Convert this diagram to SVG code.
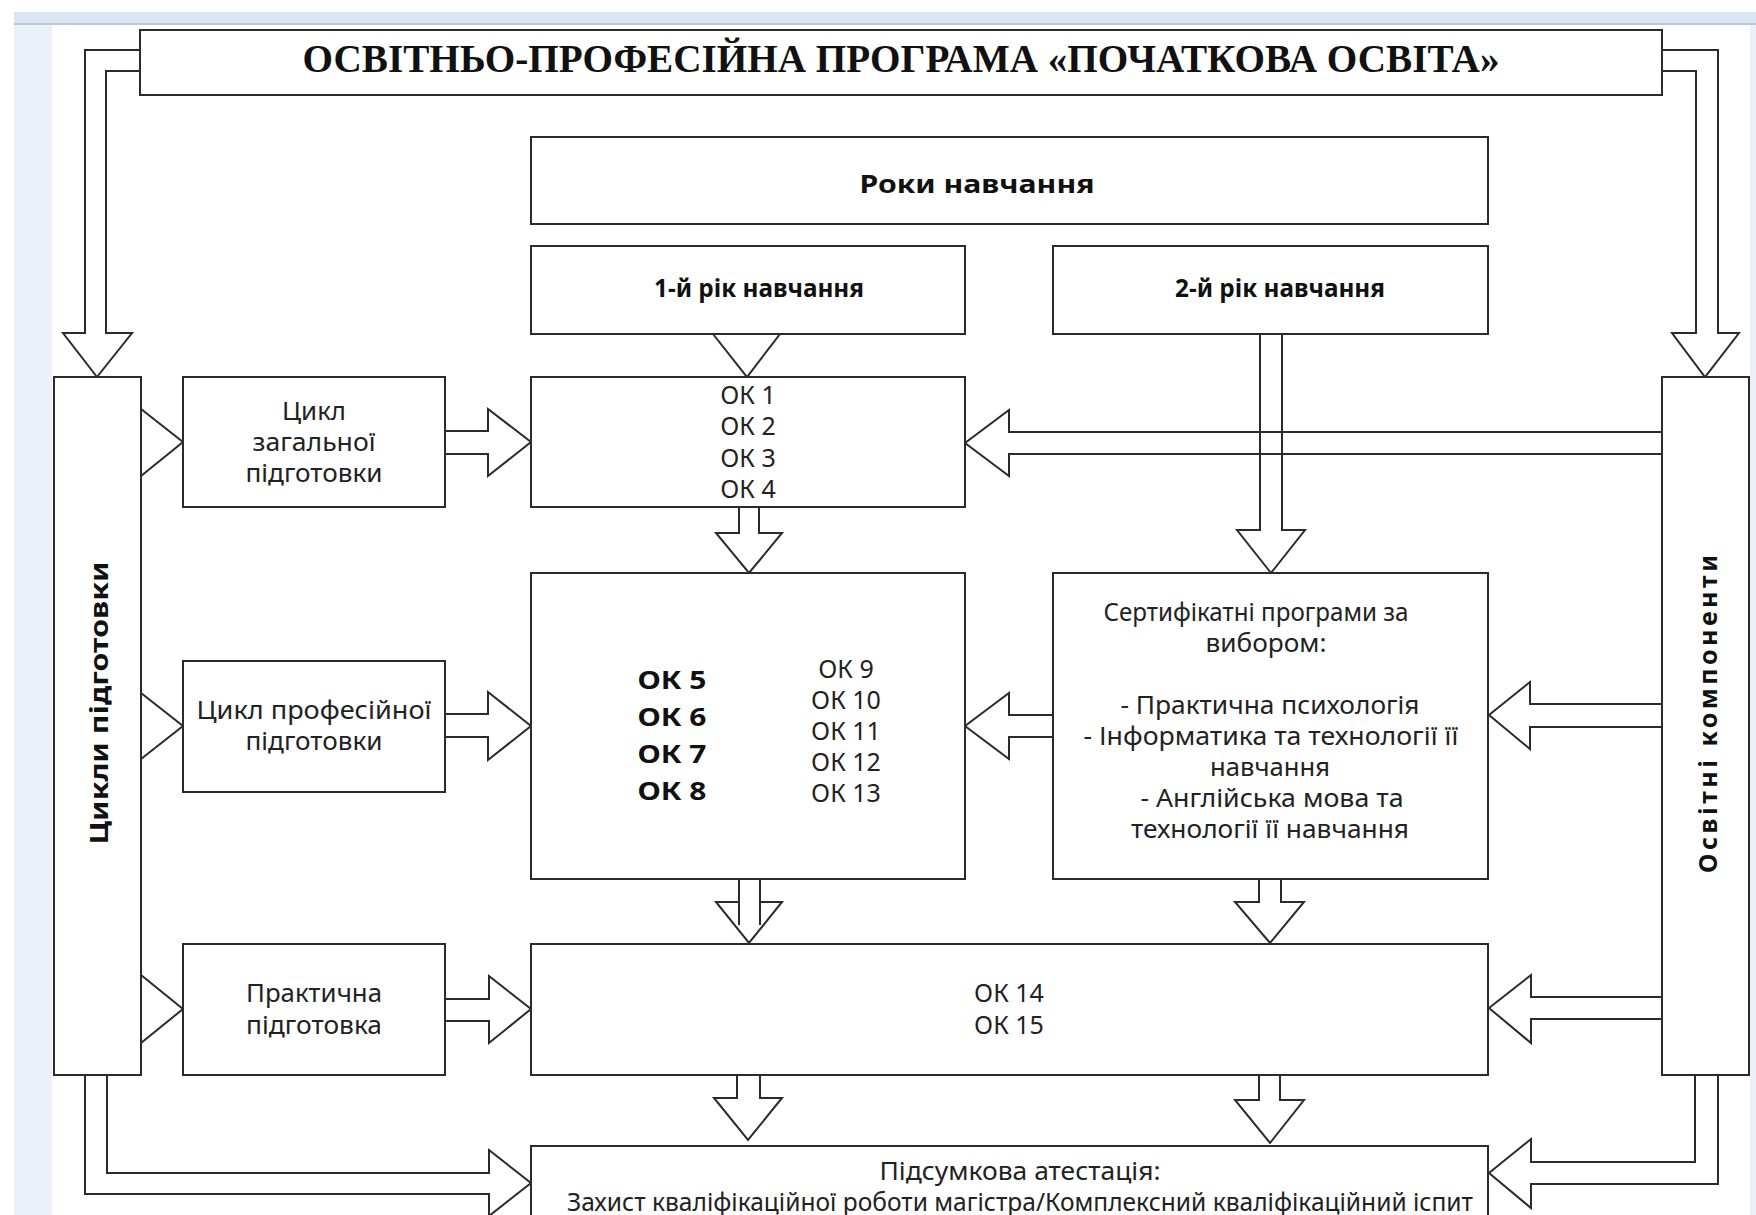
<svg xmlns="http://www.w3.org/2000/svg" width="1756" height="1215" viewBox="0 0 1756 1215">
<style>
.box{fill:#fff;stroke:#2b2b2b;stroke-width:2}
.con{fill:none;stroke:#2b2b2b;stroke-width:2;stroke-linejoin:miter}
.t{font-family:"Noto Sans","Liberation Sans",Arial,sans-serif;font-size:25px;fill:#222;text-anchor:middle}
.b{font-weight:bold;fill:#111}
.title{font-family:"Liberation Serif","Times New Roman",serif;font-size:39px;font-weight:bold;fill:#111;text-anchor:middle}
</style>
<rect x="0" y="0" width="1756" height="1215" fill="#fff"/>
<rect x="14" y="12" width="1742" height="12" fill="#dbe5f1"/>
<rect x="14" y="23" width="1742" height="2" fill="#b8c8dc"/>
<rect x="14" y="25" width="38" height="1190" fill="#ebf1f9"/>
<rect x="1750" y="25" width="6" height="1190" fill="#ebf1f9"/>

<g id="connectors">
<path class="con" d="M140,50 H85 V333 H63 L97,377 L132,333 H106 V71 H140"/>
<path class="con" d="M1662,50 H1718 V333 H1739 L1705,377 L1672,333 H1696 V71 H1662"/>
<path class="con" d="M713,334 L747,377 L780,334 Z"/>
<path class="con" d="M1260,334 V530 H1237 L1271,573 L1305,530 H1282 V334"/>
<path class="con" d="M1662,432 H1009 V410 L965,443 L1009,476 V454 H1662"/>
<path class="con" d="M445,431 H488 V409 L531,442 L488,476 V454 H445"/>
<path class="con" d="M141,409 L183,442 L141,476"/>
<path class="con" d="M739,507 V533 H716 L749,573 L782,533 H759 V507"/>
<path class="con" d="M141,693 L183,726 L141,759"/>
<path class="con" d="M445,714 H488 V692 L531,726 L488,760 V737 H445"/>
<path class="con" d="M1053,715 H1009 V693 L965,726 L1009,759 V737 H1053"/>
<path class="con" d="M1662,704 H1530 V682 L1489,715 L1530,749 V727 H1662"/>
<path class="con" d="M739,879 V902 H716 L749,943 L782,902 H760 V879 M739,902 V925 M760,902 V925"/>
<path class="con" d="M1259,879 V902 H1235 L1270,943 L1304,902 H1281 V879"/>
<path class="con" d="M141,975 L183,1009 L141,1043"/>
<path class="con" d="M445,999 H489 V976 L531,1009 L489,1043 V1021 H445"/>
<path class="con" d="M1662,997 H1531 V975 L1489,1008 L1531,1043 V1019 H1662"/>
<path class="con" d="M737,1075 V1098 H714 L748,1140 L782,1098 H760 V1075"/>
<path class="con" d="M1259,1075 V1100 H1235 L1270,1143 L1304,1100 H1280 V1075"/>
<path class="con" d="M85,1075 V1194 H489 V1216 L531,1183 L489,1150 V1173 H107 V1075"/>
<path class="con" d="M1718,1075 V1184 H1531 V1208 L1489,1173 L1531,1139 V1162 H1695 V1075"/>
</g>

<g id="title">
<rect class="box" x="140" y="30" width="1522" height="65"/>
<text class="title" x="901" y="72" textLength="1197" lengthAdjust="spacingAndGlyphs">ОСВІТНЬО-ПРОФЕСІЙНА ПРОГРАМА «ПОЧАТКОВА ОСВІТА»</text>
</g>
<g id="roky">
<rect class="box" x="531" y="137" width="957" height="87"/>
<text class="t b" x="977" y="193" font-size="31" textLength="235" lengthAdjust="spacingAndGlyphs">Роки навчання</text>
</g>
<g id="rik1">
<rect class="box" x="531" y="246" width="434" height="88"/>
<text class="t b" x="759" y="297" textLength="210" lengthAdjust="spacingAndGlyphs">1-й рік навчання</text>
</g>
<g id="rik2">
<rect class="box" x="1053" y="246" width="435" height="88"/>
<text class="t b" x="1280" y="297" textLength="210" lengthAdjust="spacingAndGlyphs">2-й рік навчання</text>
</g>
<g id="tsykly">
<rect class="box" x="54" y="377" width="87" height="698"/>
<text class="t b" font-size="31" transform="translate(108,703) rotate(-90)" x="0" y="0" textLength="283" lengthAdjust="spacingAndGlyphs">Цикли підготовки</text>
</g>
<g id="osvitni">
<rect class="box" x="1662" y="377" width="87" height="698"/>
<text class="t b" font-size="31" transform="translate(1717,714) rotate(-90)" x="0" y="0" textLength="318" lengthAdjust="spacing">Освітні компоненти</text>
</g>
<g id="zahalna">
<rect class="box" x="183" y="377" width="262" height="130"/>
<text class="t" x="314" y="420" textLength="64" lengthAdjust="spacingAndGlyphs">Цикл</text>
<text class="t" x="314" y="451" textLength="123" lengthAdjust="spacingAndGlyphs">загальної</text>
<text class="t" x="314" y="482" textLength="137" lengthAdjust="spacingAndGlyphs">підготовки</text>
</g>
<g id="ok1-4">
<rect class="box" x="531" y="377" width="434" height="130"/>
<text class="t" x="748" y="404">ОК 1</text>
<text class="t" x="748" y="435">ОК 2</text>
<text class="t" x="748" y="467">ОК 3</text>
<text class="t" x="748" y="498">ОК 4</text>
</g>
<g id="profesiina">
<rect class="box" x="183" y="661" width="262" height="131"/>
<text class="t" x="314" y="719" textLength="235" lengthAdjust="spacingAndGlyphs">Цикл професійної</text>
<text class="t" x="314" y="750" textLength="137" lengthAdjust="spacingAndGlyphs">підготовки</text>
</g>
<g id="ok5-13">
<rect class="box" x="531" y="573" width="434" height="306"/>
<text class="t b" font-size="28" x="672" y="689" textLength="69" lengthAdjust="spacingAndGlyphs">ОК 5</text>
<text class="t b" font-size="28" x="672" y="726" textLength="69" lengthAdjust="spacingAndGlyphs">ОК 6</text>
<text class="t b" font-size="28" x="672" y="763" textLength="69" lengthAdjust="spacingAndGlyphs">ОК 7</text>
<text class="t b" font-size="28" x="672" y="800" textLength="69" lengthAdjust="spacingAndGlyphs">ОК 8</text>
<text class="t" x="846" y="678">ОК 9</text>
<text class="t" x="846" y="709">ОК 10</text>
<text class="t" x="846" y="740">ОК 11</text>
<text class="t" x="846" y="771">ОК 12</text>
<text class="t" x="846" y="802">ОК 13</text>
</g>
<g id="sertyfikatni">
<rect class="box" x="1053" y="573" width="435" height="306"/>
<text class="t" x="1256" y="621" textLength="305" lengthAdjust="spacingAndGlyphs">Сертифікатні програми за</text>
<text class="t" x="1266" y="652" textLength="121" lengthAdjust="spacingAndGlyphs">вибором:</text>
<text class="t" x="1270" y="714" textLength="299" lengthAdjust="spacingAndGlyphs">- Практична психологія</text>
<text class="t" x="1271" y="745" textLength="375" lengthAdjust="spacingAndGlyphs">- Інформатика та технології її</text>
<text class="t" x="1270" y="776" textLength="120" lengthAdjust="spacingAndGlyphs">навчання</text>
<text class="t" x="1272" y="807" textLength="263" lengthAdjust="spacingAndGlyphs">- Англійська мова та</text>
<text class="t" x="1270" y="838" textLength="278" lengthAdjust="spacingAndGlyphs">технології її навчання</text>
</g>
<g id="praktychna">
<rect class="box" x="183" y="944" width="262" height="131"/>
<text class="t" x="314" y="1002" textLength="136" lengthAdjust="spacingAndGlyphs">Практична</text>
<text class="t" x="314" y="1034" textLength="136" lengthAdjust="spacingAndGlyphs">підготовка</text>
</g>
<g id="ok14-15">
<rect class="box" x="531" y="944" width="957" height="131"/>
<text class="t" x="1009" y="1002">ОК 14</text>
<text class="t" x="1009" y="1034">ОК 15</text>
</g>
<g id="pidsumkova">
<rect class="box" x="531" y="1146" width="957" height="90"/>
<text class="t" x="1020" y="1180" textLength="281" lengthAdjust="spacingAndGlyphs">Підсумкова атестація:</text>
<text class="t" x="1020" y="1211" fill="#444" textLength="906" lengthAdjust="spacingAndGlyphs">Захист кваліфікаційної роботи магістра/Комплексний кваліфікаційний іспит</text>
</g>
</svg>
